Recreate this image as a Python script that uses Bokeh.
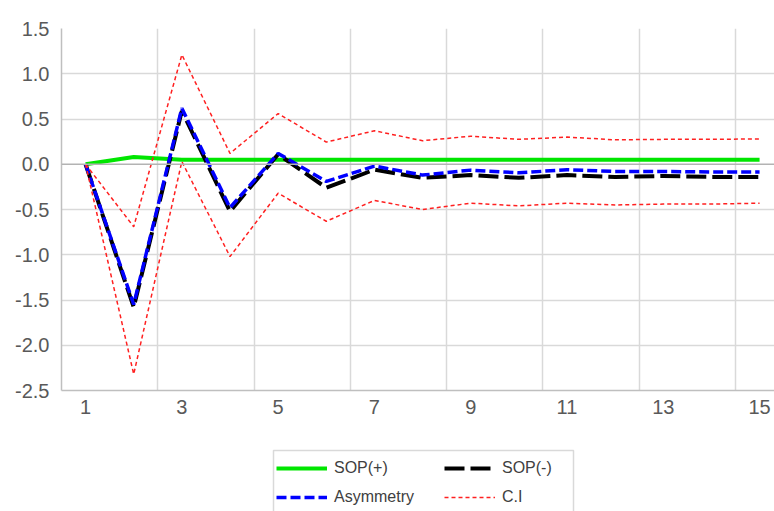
from bokeh.plotting import figure
from bokeh.layouts import column
from bokeh.models import (Range1d, FixedTicker, Span, Legend, LegendItem,
                          CustomJSTickFormatter)
from bokeh.embed import file_html
from bokeh.resources import INLINE

# ---- data ----
periods = list(range(1, 16))
sop_pos = [0, 0.08, 0.05, 0.05, 0.05, 0.05, 0.05, 0.05, 0.05, 0.05, 0.05, 0.05, 0.05, 0.05, 0.05]
sop_neg = [0, -1.58, 0.59, -0.52, 0.11, -0.26, -0.06, -0.15, -0.12, -0.15, -0.12, -0.14, -0.13, -0.14, -0.14]
asymmetry = [0, -1.55, 0.62, -0.48, 0.12, -0.19, -0.02, -0.12, -0.065, -0.095, -0.06, -0.08, -0.08, -0.085, -0.085]
ci_upper = [0, -0.69, 1.21, 0.12, 0.56, 0.245, 0.37, 0.26, 0.31, 0.275, 0.30, 0.27, 0.275, 0.275, 0.28]
ci_lower = [0, -2.32, 0.03, -1.02, -0.32, -0.63, -0.40, -0.50, -0.43, -0.46, -0.43, -0.45, -0.44, -0.44, -0.43]
x_ticks = [1, 3, 5, 7, 9, 11, 13, 15]
y_ticks = [-2.5, -2.0, -1.5, -1.0, -0.5, 0.0, 0.5, 1.0, 1.5]
labels = ["SOP(+)", "SOP(-)", "Asymmetry", "C.I"]

FONT = "Liberation Sans"
GRID = "#d9d9d9"
AXIS = "#bfbfbf"

STYLES = [
    dict(line_color="#00e600", line_width=4),
    dict(line_color="black", line_width=4, line_dash="20 6"),
    dict(line_color="#0000ff", line_width=3.5, line_dash="10 4"),
    dict(line_color="#ff2020", line_width=1.5, line_dash="4 3"),
]

p = figure(width=774, height=430, output_backend="svg", toolbar_location=None,
           x_range=Range1d(0.5, 15.31), y_range=Range1d(-2.5, 1.5),
           min_border_left=61, min_border_right=0, min_border_top=28,
           min_border_bottom=40)
p.outline_line_color = None

# grids
p.xgrid.ticker = FixedTicker(ticks=[2.5, 4.5, 6.5, 8.5, 10.5, 12.5, 14.5])
p.ygrid.ticker = FixedTicker(ticks=[t for t in y_ticks if t not in (-2.5, 0.0, 1.5)])
for g in (p.xgrid, p.ygrid):
    g.grid_line_color = GRID
    g.grid_line_width = 1.5

p.add_layout(Span(location=0, dimension="width", line_color="#b3b3b3", line_width=1.5))

# axes
p.xaxis.ticker = FixedTicker(ticks=x_ticks)
p.yaxis.ticker = FixedTicker(ticks=y_ticks)
p.yaxis.formatter = CustomJSTickFormatter(code="return tick.toFixed(1);")
for ax in (p.xaxis, p.yaxis):
    ax.axis_line_color = AXIS
    ax.axis_line_width = 1.5
    ax.major_tick_line_color = None
    ax.minor_tick_line_color = None
    ax.major_label_text_font = FONT
    ax.major_label_text_font_size = "20px"
    ax.major_label_text_color = "#595959"
p.xaxis.major_label_standoff = 3
p.yaxis.major_label_standoff = 6

# series
p.line(periods, sop_pos, **STYLES[0])
p.line(periods, sop_neg, **STYLES[1])
p.line(periods, asymmetry, **STYLES[2])
p.line(periods, ci_upper, **STYLES[3])
p.line(periods, ci_lower, **STYLES[3])

# ---- legend strip below the chart (ranges in page pixels) ----
lf = figure(width=774, height=81, output_backend="svg", toolbar_location=None,
            x_range=Range1d(61, 774), y_range=Range1d(511, 430),
            x_axis_location=None, y_axis_location=None,
            min_border_left=61, min_border_right=0,
            min_border_top=0, min_border_bottom=0)
lf.outline_line_color = None
lf.grid.visible = False

# legend frame box
lf.quad(left=[273], right=[573], top=[450], bottom=[516],
        fill_color="white", line_color=GRID, line_width=1.5)

# off-screen stand-ins that carry each series' line style into the legend
dummies = [lf.line([0, 1], [0, 0], **s) for s in STYLES]

common = dict(orientation="vertical", glyph_width=51, glyph_height=20,
              label_height=20, label_standoff=7, spacing=9, padding=6,
              label_text_font=FONT, label_text_font_size="16px",
              label_text_color="#404040", border_line_color=None,
              background_fill_alpha=0)
leg_a = Legend(items=[LegendItem(label=labels[0], renderers=[dummies[0]]),
                      LegendItem(label=labels[2], renderers=[dummies[2]])],
               location=(215, 4), **common)
leg_b = Legend(items=[LegendItem(label=labels[1], renderers=[dummies[1]]),
                      LegendItem(label=labels[3], renderers=[dummies[3]])],
               location=(383, 4), **common)
lf.add_layout(leg_a, "center")
lf.add_layout(leg_b, "center")

layout = column(p, lf, spacing=0)
open("out.html", "w").write(file_html(layout, INLINE))
